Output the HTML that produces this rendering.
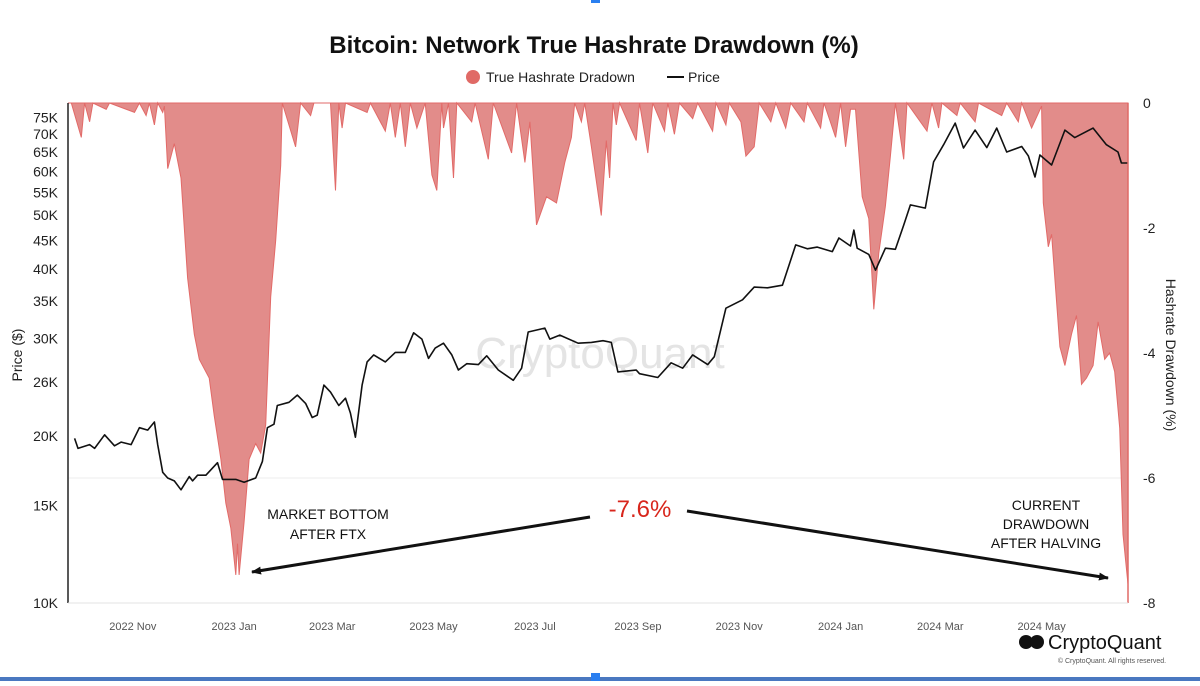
<!DOCTYPE html>
<html><head><meta charset="utf-8">
<style>
html,body{margin:0;padding:0;background:#fff;}
body{width:1200px;height:681px;overflow:hidden;font-family:"Liberation Sans",Arial,sans-serif;}
svg text{font-family:"Liberation Sans",Arial,sans-serif;}
</style></head>
<body>
<svg id="chart" width="1200" height="681" viewBox="0 0 1200 681">
  <rect x="0" y="0" width="1200" height="681" fill="#fff"/>
  <text x="594" y="53" text-anchor="middle" font-size="24" font-weight="bold" fill="#111">Bitcoin: Network True Hashrate Drawdown (%)</text>
  <g>
    <circle cx="473" cy="77" r="7" fill="#e06a66"/>
    <text x="486" y="82" font-size="14" fill="#222">True Hashrate Dradown</text>
    <line x1="667" y1="77" x2="684" y2="77" stroke="#111" stroke-width="2"/>
    <text x="688" y="82" font-size="14" fill="#222">Price</text>
  </g>
  <text x="600" y="368" text-anchor="middle" font-size="44" fill="#e4e4e4">CryptoQuant</text>
  <g id="plot"></g>
  <g id="axes"></g>
  <text transform="translate(22,355) rotate(-90)" text-anchor="middle" font-size="14" fill="#222">Price ($)</text>
  <text transform="translate(1166,355) rotate(90)" text-anchor="middle" font-size="14" fill="#222">Hashrate Drawdown (%)</text>
  <g>
    <text x="328" y="519" text-anchor="middle" font-size="14" fill="#111">MARKET BOTTOM</text>
    <text x="328" y="539" text-anchor="middle" font-size="14" fill="#111">AFTER FTX</text>
  </g>
  <text x="640" y="517" text-anchor="middle" font-size="24" fill="#d8261c">-7.6%</text>
  <g>
    <text x="1046" y="510" text-anchor="middle" font-size="14" fill="#111">CURRENT</text>
    <text x="1046" y="529" text-anchor="middle" font-size="14" fill="#111">DRAWDOWN</text>
    <text x="1046" y="548" text-anchor="middle" font-size="14" fill="#111">AFTER HALVING</text>
  </g>
  <defs>
    <marker id="ah" markerWidth="10" markerHeight="8" refX="9" refY="4" orient="auto" markerUnits="userSpaceOnUse">
      <path d="M0,0 L10,4 L0,8 Z" fill="#111"/>
    </marker>
  </defs>
  <line x1="590" y1="517" x2="252" y2="572" stroke="#111" stroke-width="3" marker-end="url(#ah)"/>
  <line x1="687" y1="511" x2="1108" y2="578" stroke="#111" stroke-width="3" marker-end="url(#ah)"/>
  <g>
    <circle cx="1026" cy="642" r="7" fill="#111"/>
    <circle cx="1037" cy="642" r="7" fill="#111"/>
    <text x="1048" y="649" font-size="20" fill="#111">CryptoQuant</text>
    <text x="1112" y="663" text-anchor="middle" font-size="7" fill="#555">© CryptoQuant. All rights reserved.</text>
  </g>
  <rect x="0" y="677" width="1200" height="4" fill="#4a78c0"/>
  <rect x="591" y="673" width="9" height="8" fill="#2a7ff0"/>
  <rect x="591" y="0" width="9" height="3" fill="#2a7ff0"/>
</svg>
<script>
// Drawdown series (day offset from 2022-09-23, value %)
var ddDays = [0,2,8,10,13,15,23,25,40,43,47,49,52,54,57,58,60,64,68,72,76,79,85,88,92,95,98,101,102,103,106,109,113,116,119,122,125,128,129,137,140,146,148,158,161,163,165,167,180,182,191,194,197,200,203,206,210,215,219,222,225,226,229,232,234,243,245,253,256,267,270,275,278,282,288,294,299,303,305,309,311,315,321,324,326,328,330,332,342,344,349,352,359,361,365,368,376,379,388,390,396,398,405,408,413,416,423,426,432,435,443,445,453,455,462,465,468,471,474,478,482,485,488,492,495,498,503,505,517,520,524,526,535,537,546,548,562,565,572,574,580,586,587,590,592,597,600,604,607,610,613,617,620,624,627,630,633,635,638];
var ddVals = [0,0,-0.55,0,-0.3,0,-0.1,0,-0.15,0,-0.2,0,-0.35,0,-0.15,-0.05,-1.05,-0.65,-1.2,-2.8,-3.7,-4.1,-4.4,-5.0,-5.7,-6.4,-6.8,-7.55,-7.05,-7.55,-6.7,-5.7,-5.45,-5.6,-5.15,-3.1,-2.2,-1.0,0,-0.7,0,-0.2,0,0,-1.4,0,-0.4,0,-0.15,0,-0.45,0,-0.55,0,-0.7,0,-0.4,0,-1.15,-1.4,0,-0.4,0,-1.2,0,-0.3,0,-0.9,0,-0.8,0,-0.95,-0.3,-1.95,-1.5,-1.6,-0.95,-0.55,0,-0.3,0,-0.7,-1.8,-0.6,-1.2,0,-0.35,0,-0.6,0,-0.8,0,-0.45,0,-0.5,0,-0.25,0,-0.45,0,-0.35,0,-0.3,-0.85,-0.7,0,-0.3,0,-0.4,0,-0.3,0,-0.4,0,-0.55,0,-0.7,-0.1,-0.1,-1.5,-1.85,-3.3,-2.4,-1.65,-0.85,0,-0.9,0,-0.45,0,-0.4,0,-0.2,0,-0.3,0,-0.2,0,-0.3,0,-0.4,-0.05,-1.6,-2.3,-2.1,-3.9,-4.2,-3.7,-3.4,-4.5,-4.4,-4.2,-3.5,-4.1,-4.0,-4.3,-5.2,-6.9,-7.7];
// Price series (day offset, thousands USD)
var priceDays = [4,6,13,16,22,28,32,38,43,48,52,54,57,60,64,68,73,75,78,83,90,93,101,106,113,117,120,124,126,133,138,143,147,150,154,158,163,167,170,173,177,180,184,191,197,203,208,213,217,221,226,231,235,240,247,252,259,268,273,277,287,290,296,307,315,322,327,331,342,344,355,363,370,376,385,389,396,406,413,421,430,438,445,451,460,464,471,473,475,482,486,492,498,503,507,516,521,527,534,539,546,553,559,565,574,578,582,585,592,600,606,617,625,632,634,638];
var priceVals = [19.8,19.0,19.3,19.0,20.1,19.2,19.5,19.3,20.7,20.5,21.2,19.3,17.2,16.8,16.6,16.0,16.9,16.6,17.0,17.0,17.9,16.7,16.7,16.5,16.8,18.0,20.7,21.0,22.7,23.0,23.7,22.9,21.6,21.8,24.7,24.0,22.7,23.4,22.0,19.9,24.7,27.2,28.0,27.2,28.3,28.3,30.7,29.9,27.6,28.8,29.4,28.0,26.3,27.0,26.9,27.9,26.3,25.2,26.5,30.8,31.3,29.9,30.4,29.4,29.5,29.7,29.5,26.1,26.3,25.9,25.5,27.1,26.5,28.0,26.9,27.8,34.0,35.2,37.1,37.0,37.4,44.2,43.5,43.8,43.0,45.5,44.0,47.0,43.6,42.5,39.8,43.6,43.4,48.0,52.2,51.5,62.4,67.0,73.3,66.1,71.2,66.2,71.8,65.0,66.5,64.0,58.6,64.2,61.6,71.2,69.0,71.8,67.0,65.0,62.1,62.1];
var priceTicks = [10,15,20,25,30,35,40,45,50,55,60,65,70,75];
var priceTickLabels = ["10K","15K","20K","26K","30K","35K","40K","45K","50K","55K","60K","65K","70K","75K"];
var ddTicks = [0,-2,-4,-6,-8];
var xTickDays = [39,100,159,220,281,343,404,465,525,586];
var xTickLabels = ["2022 Nov","2023 Jan","2023 Mar","2023 May","2023 Jul","2023 Sep","2023 Nov","2024 Jan","2024 Mar","2024 May"];

var NS = "http://www.w3.org/2000/svg";
var L = 68, R = 1128, T = 103, B = 603, DAYS = 638;
function xs(d){ return L + d/DAYS*(R-L); }
function yPrice(p){ return B - Math.log(p/10)/Math.LN2*167; }
function yDD(v){ return T + (-v)/8*(B-T); }
function mk(tag, attrs, parent){ var e=document.createElementNS(NS,tag); for(var k in attrs) e.setAttribute(k, attrs[k]); parent.appendChild(e); return e; }

var plot = document.getElementById('plot');
var axes = document.getElementById('axes');

var g1 = mk('line',{x1:L,x2:R,y1:yDD(-6),y2:yDD(-6),stroke:'#eeeeee','stroke-width':1},plot);



var d = 'M' + xs(ddDays[0]) + ',' + yDD(0);
for (var i=0;i<ddDays.length;i++) d += ' L' + xs(ddDays[i]).toFixed(1) + ',' + yDD(ddVals[i]).toFixed(1);
d += ' L' + xs(ddDays[ddDays.length-1]) + ',' + yDD(0) + ' Z';
var area = mk('path',{d:d,fill:'#e08684',stroke:'#e26a68','stroke-width':1,'fill-opacity':0.95},plot);



var pd = '';
for (var j=0;j<priceDays.length;j++) pd += (j?' L':'M') + xs(priceDays[j]).toFixed(1) + ',' + yPrice(priceVals[j]).toFixed(1);
var pl = mk('path',{d:pd,fill:'none',stroke:'#111','stroke-width':1.6,'stroke-linejoin':'round'},plot);



var la = mk('line',{x1:L,x2:L,y1:T,y2:B,stroke:'#222','stroke-width':1.5},axes);


var ra = mk('line',{x1:R,x2:R,y1:T,y2:B,stroke:'#e06a66','stroke-width':1.5},axes);


var ba = mk('line',{x1:L,x2:R,y1:B,y2:B,stroke:'#e3e3e3','stroke-width':1},axes);



for (var a=0;a<priceTicks.length;a++){
  var t = mk('text',{x:58,y:(yPrice(priceTicks[a])+5).toFixed(1),'text-anchor':'end','font-size':14,fill:'#222'},axes);
  t.textContent = priceTickLabels[a];
  
  
}
for (var b=0;b<ddTicks.length;b++){
  var t2 = mk('text',{x:1143,y:(yDD(ddTicks[b])+5).toFixed(1),'font-size':14,fill:'#222'},axes);
  t2.textContent = String(ddTicks[b]);
  
  
}
for (var c=0;c<xTickDays.length;c++){
  var t3 = mk('text',{x:xs(xTickDays[c]).toFixed(1),y:630,'text-anchor':'middle','font-size':11,fill:'#555'},axes);
  t3.textContent = xTickLabels[c];
  
  
}
</script>
</body></html>
